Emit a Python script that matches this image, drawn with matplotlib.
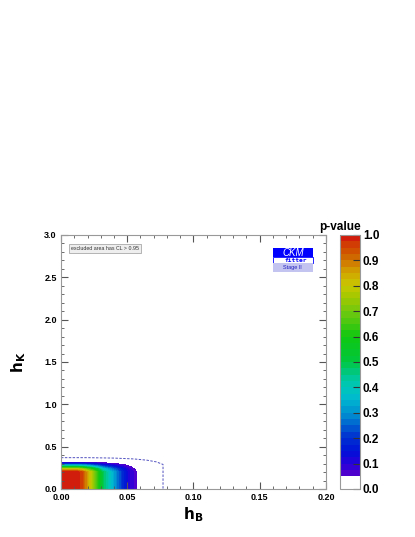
import numpy as np
import matplotlib
matplotlib.use("Agg")
import matplotlib.pyplot as plt
from matplotlib.colors import LinearSegmentedColormap
from matplotlib.patches import Rectangle

plt.rcParams['font.family'] = ['Liberation Sans', 'DejaVu Sans']

# p-value table (rows: h_K, columns: h_B)
h_B = [0.0, 0.012, 0.016, 0.020, 0.023, 0.027, 0.031, 0.037, 0.041, 0.046, 0.052, 0.058, 0.065]
h_K = [0.0, 0.20, 0.235, 0.255, 0.28, 0.30, 0.32, 0.34]
p_value = [
    [1.00, 1.00, 0.95, 0.85, 0.78, 0.65, 0.50, 0.38, 0.30, 0.20, 0.10, 0.04, 0.0],
    [1.00, 1.00, 0.95, 0.85, 0.78, 0.65, 0.50, 0.38, 0.30, 0.20, 0.10, 0.04, 0.0],
    [0.80, 0.80, 0.76, 0.68, 0.62, 0.52, 0.40, 0.30, 0.24, 0.16, 0.08, 0.03, 0.0],
    [0.60, 0.60, 0.57, 0.51, 0.47, 0.39, 0.30, 0.23, 0.18, 0.12, 0.06, 0.02, 0.0],
    [0.35, 0.35, 0.33, 0.30, 0.27, 0.23, 0.18, 0.13, 0.11, 0.07, 0.04, 0.01, 0.0],
    [0.15, 0.15, 0.14, 0.13, 0.12, 0.10, 0.08, 0.06, 0.05, 0.03, 0.02, 0.01, 0.0],
    [0.04, 0.04, 0.04, 0.03, 0.03, 0.03, 0.02, 0.02, 0.01, 0.01, 0.01, 0.0, 0.0],
    [0.0, 0.0, 0.0, 0.0, 0.0, 0.0, 0.0, 0.0, 0.0, 0.0, 0.0, 0.0, 0.0],
]

# dashed contour (other scenario)
dash_hB = [0.0, 0.020, 0.040, 0.055, 0.065, 0.072, 0.077, 0.077]
dash_hK = [0.37, 0.37, 0.365, 0.355, 0.34, 0.32, 0.29, 0.0]

pal = LinearSegmentedColormap.from_list("root", [
    (0.00, "#5a00c8"), (0.05, "#2800d8"), (0.10, "#0010d8"), (0.16, "#0030d0"),
    (0.21, "#0060d0"), (0.26, "#0090d0"), (0.32, "#00b8d0"), (0.37, "#00c8b8"),
    (0.42, "#00c890"), (0.47, "#00c840"), (0.58, "#10c810"), (0.68, "#70c810"),
    (0.74, "#a0c800"), (0.79, "#c8c800"), (0.84, "#d0a800"), (0.89, "#d07800"),
    (0.95, "#d04800"), (1.00, "#d01010")])

levels = np.concatenate([[0.0], np.arange(0.05, 1.0001, 0.025)])
mids = (levels[1:-1] + levels[2:]) / 2
colors = ["white"] + [pal((m - 0.05) / 0.95) for m in mids]

fig = plt.figure(figsize=(4.15, 5.37), dpi=100)
ax = fig.add_axes([0.147, 0.0894, 0.6385, 0.473])
cax = fig.add_axes([0.819, 0.0894, 0.0485, 0.473])

cs = ax.contourf(h_B, h_K, p_value, levels=levels, colors=colors)
ax.plot(dash_hB, dash_hK, ls=(0, (2.5, 1.5)), color="#5050c0", lw=0.7)

ax.set_xlim(0, 0.2)
ax.set_ylim(0, 3.0)
ax.set_xticks(np.arange(0, 0.2001, 0.05))
ax.set_xticks(np.arange(0, 0.2001, 0.01), minor=True)
ax.set_yticks(np.arange(0, 3.001, 0.5))
ax.set_yticks(np.arange(0, 3.001, 0.1), minor=True)
ax.set_xticklabels([f"{v:.2f}" for v in np.arange(0, 0.2001, 0.05)])
ax.set_yticklabels([f"{v:.1f}" for v in np.arange(0, 3.001, 0.5)])
ax.tick_params(which="both", direction="in", top=True, right=True, color="#555555",
               labelsize=6.5, pad=3)
ax.tick_params(which="major", length=5)
ax.tick_params(which="minor", length=2.5)
for lbl in ax.get_xticklabels() + ax.get_yticklabels():
    lbl.set_fontweight("bold")
for s in ax.spines.values():
    s.set_color("#999999")

ax.set_xlabel(r"$\mathbf{h_B}$", fontsize=11, labelpad=2)
ax.set_ylabel(r"$\mathbf{h_K}$", fontsize=11, labelpad=12)

# legend box
ax.text(0.038, 0.948, "excluded area has CL > 0.95", transform=ax.transAxes,
        fontsize=3.8, color="#333333", va="center", ha="left",
        bbox=dict(boxstyle="square,pad=0.35", fc="#eeeeee", ec="#999999", lw=0.5))

# CKMfitter logo
ax.add_patch(Rectangle((0.80, 0.913), 0.151, 0.036, transform=ax.transAxes,
                       fc="#0000ff", ec="none"))
ax.add_patch(Rectangle((0.80, 0.890), 0.151, 0.023, transform=ax.transAxes,
                       fc="white", ec="#0000ff", lw=0.6))
ax.add_patch(Rectangle((0.80, 0.854), 0.151, 0.036, transform=ax.transAxes,
                       fc="#c4c4f0", ec="none"))
ax.text(0.875, 0.931, "CKM", transform=ax.transAxes, fontsize=7, color="white",
        style="italic", ha="center", va="center")
ax.text(0.93, 0.9015, "fitter", transform=ax.transAxes, fontsize=4.5, color="#0000ff",
        ha="right", va="center", family="DejaVu Sans Mono", fontweight="bold")
ax.text(0.875, 0.872, "Stage II", transform=ax.transAxes, fontsize=4, color="#2020c0",
        ha="center", va="center")

cb = fig.colorbar(cs, cax=cax, spacing="proportional", ticks=np.arange(0, 1.001, 0.1))
cb.ax.set_yticklabels([f"{v:.1f}" for v in np.arange(0, 1.001, 0.1)])
cb.ax.tick_params(direction="in", length=5, color="#333333", labelsize=8.5, pad=2)
for lbl in cb.ax.get_yticklabels():
    lbl.set_fontweight("bold")
cb.outline.set_edgecolor("#999999")
fig.text(340 / 415, 1 - 227 / 537, "p-value", fontsize=8.5, fontweight="bold",
         ha="center", va="center")

fig.savefig("out.png", dpi=100)
